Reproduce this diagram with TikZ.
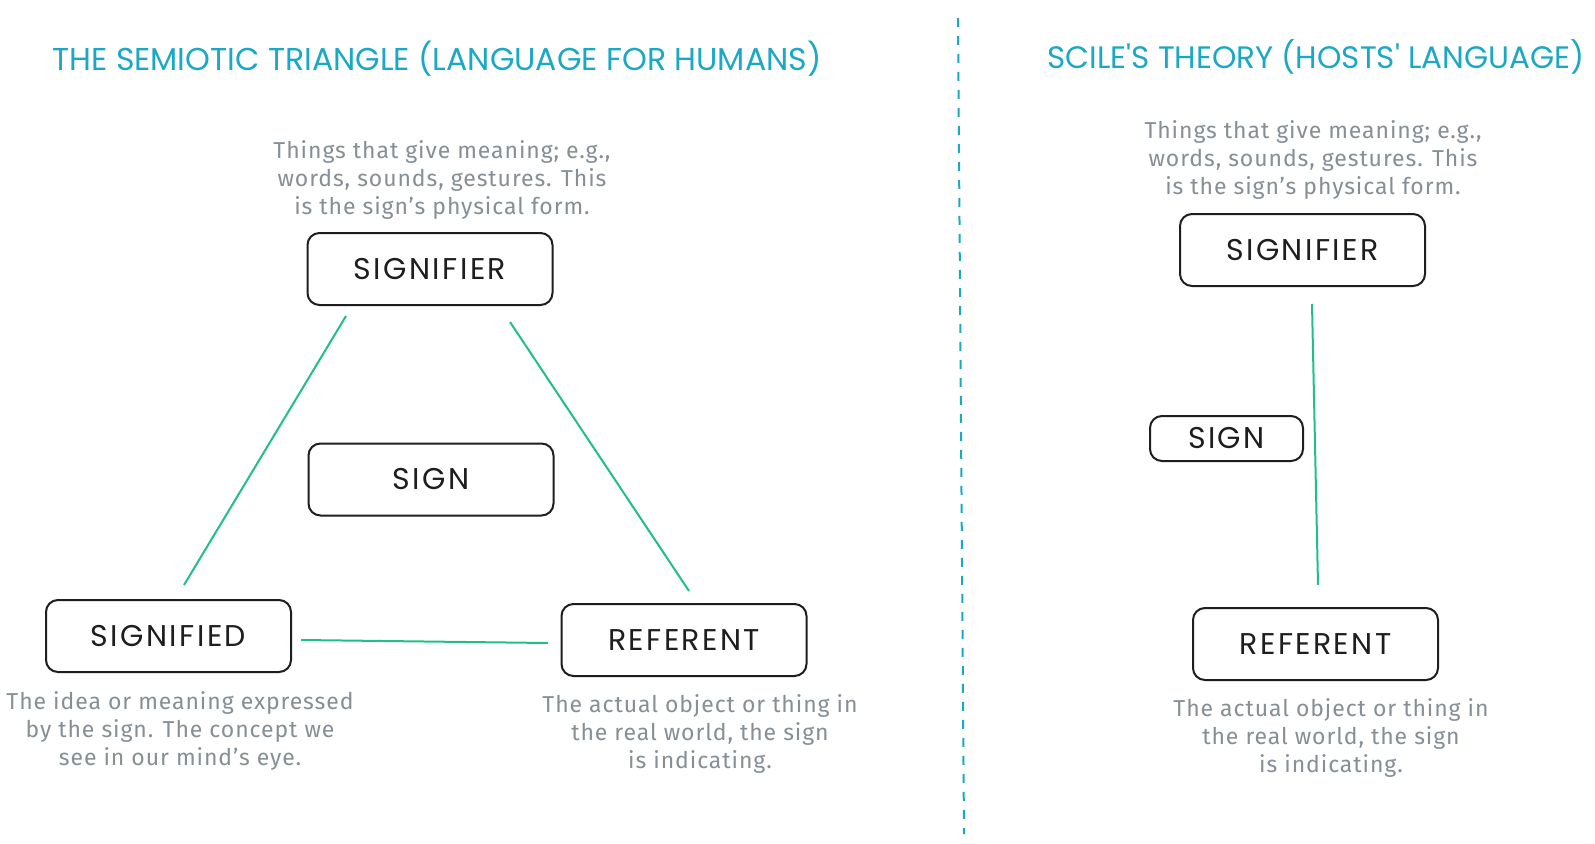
\documentclass[tikz,border=0pt]{standalone}
\usepackage{fontspec}
\setmainfont{Fira Sans}
\newfontfamily\labelfont{Poppins}[LetterSpace=8]
\newfontfamily\titlefont{Poppins}
\newfontfamily\descfont{Fira Sans}[LetterSpace=4]
\usetikzlibrary{calc}
\definecolor{ttl}{HTML}{1BA8C5}
\definecolor{desc}{HTML}{868E96}
\definecolor{grn}{HTML}{20BF8A}
\definecolor{ink}{HTML}{1E1E1E}
\tikzset{
  box/.style={draw=ink, line width=2pt, rounded corners=12pt, minimum width=245pt, minimum height=72pt, inner sep=0pt, font=\labelfont\fontsize{30}{30}\selectfont, text=ink},
  smallbox/.style={box, minimum width=153pt, minimum height=45pt},
  desctext/.style={align=center, text=desc, inner sep=0pt, font=\descfont\fontsize{23}{28}\selectfont},
  title/.style={text=ttl, inner sep=0pt, font=\titlefont},
  link/.style={draw=grn, line width=2pt},
  divider/.style={draw=ttl, line width=2pt, dash pattern=on 9pt off 9pt}
}
\begin{document}
\begin{tikzpicture}[x=1pt, y=-1pt]
\useasboundingbox (0,0) rectangle (1595,843);
\fill[white] (0,0) rectangle (1595,843);

% titles
\node[title] (t1) at (437,59) {\resizebox{769pt}{!}{THE SEMIOTIC TRIANGLE (LANGUAGE FOR HUMANS)}};
\node[title] (t2) at (1316,57) {\resizebox{537pt}{!}{SCILE'S THEORY (HOSTS' LANGUAGE)}};

% divider
\draw[divider] (958,18) -- (964,834);

% left triangle
\node[desctext] (d1) at (442,180) {Things that give meaning; e.g.,\\words, sounds, gestures. This\\is the sign’s physical form.};
\node[box] (sfr) at (430,269) {SIGNIFIER};
\node[box] (sign) at (431,479.5) {SIGN};
\node[box] (sfd) at (168.5,636) {SIGNIFIED};
\node[box] (ref) at (684,640) {REFERENT};
\node[desctext] (d2) at (180,731) {The idea or meaning expressed\\by the sign. The concept we\\see in our mind’s eye.};
\node[desctext] (d3) at (700,734) {The actual object or thing in\\the real world, the sign\\is indicating.};

\draw[link] ([shift={(39.5,10)}]sfr.south west) -- ([shift={(139,-14)}]sfd.north west);
\draw[link] ([shift={(-43.5,16)}]sfr.south east) -- ([shift={(128.5,-12)}]ref.north west);
\draw[link] ([shift={(9,4)}]sfd.east) -- ([shift={(-12.5,3)}]ref.west);

% right
\node[desctext] (d4) at (1313,160) {Things that give meaning; e.g.,\\words, sounds, gestures. This\\is the sign’s physical form.};
\node[box] (sfr2) at (1302.5,250) {SIGNIFIER};
\node[smallbox] (sign2) at (1226.5,438.5) {SIGN};
\node[box] (ref2) at (1315.5,644) {REFERENT};
\node[desctext] (d5) at (1331,738) {The actual object or thing in\\the real world, the sign\\is indicating.};

\draw[link] ([shift={(9.5,17)}]sfr2.south) -- ([shift={(2.5,-22)}]ref2.north);
\end{tikzpicture}
\end{document}
